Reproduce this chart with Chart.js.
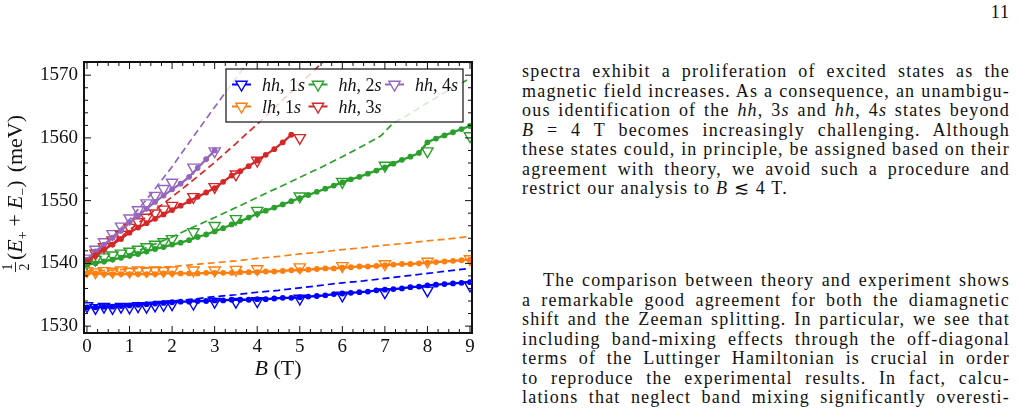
<!DOCTYPE html>
<html>
<head>
<meta charset="utf-8">
<script src="https://cdn.jsdelivr.net/npm/chart.js@4.4.1/dist/chart.umd.min.js"></script>
<style>
  html, body { margin: 0; padding: 0; background: #fff; }
  body { width: 1019px; height: 419px; position: relative; overflow: hidden;
         font-family: "Liberation Serif", "DejaVu Serif", serif; color: #111; }
  #plot { position: absolute; left: 0; top: 0; }
  .txt { position: absolute; left: 522px; width: 488px; font-family: "Liberation Serif", "DejaVu Serif", serif;
         font-size: 18px; letter-spacing: 1.2px; line-height: 19.5px; }
  .ln { text-align: justify; text-align-last: justify; height: 19.5px; }
  .ll { text-align: left; height: 19.5px; }
  #pagenum { position: absolute; right: 9px; top: 2px; font-size: 18px; letter-spacing: 1px;
             font-family: "Liberation Serif", "DejaVu Serif", serif; }
</style>
</head>
<body>
<canvas id="plot" width="490" height="419"></canvas>

<div id="pagenum">11</div>
<div class="txt" style="top:62px">
  <div class="ln">spectra exhibit a proliferation of excited states as the</div>
  <div class="ln">magnetic field increases. As a consequence, an unambigu-</div>
  <div class="ln">ous identification of the <i>hh</i>, 3<i>s</i> and <i>hh</i>, 4<i>s</i> states beyond</div>
  <div class="ln"><i>B</i> = 4 T becomes increasingly challenging. Although</div>
  <div class="ln">these states could, in principle, be assigned based on their</div>
  <div class="ln">agreement with theory, we avoid such a procedure and</div>
  <div class="ll">restrict our analysis to <i>B</i> &#8818; 4 T.</div>
</div>
<div class="txt" style="top:271px">
  <div class="ln" style="padding-left:21px">The comparison between theory and experiment shows</div>
  <div class="ln">a remarkable good agreement for both the diamagnetic</div>
  <div class="ln">shift and the Zeeman splitting. In particular, we see that</div>
  <div class="ln">including band-mixing effects through the off-diagonal</div>
  <div class="ln">terms of the Luttinger Hamiltonian is crucial in order</div>
  <div class="ln">to reproduce the experimental results. In fact, calcu-</div>
  <div class="ln">lations that neglect band mixing significantly overesti-</div>
</div>

<script>
// magnetic field values (T)
const bSolid = [0, 0.2, 0.4, 0.6, 0.8, 1, 1.2, 1.4, 1.6, 1.8, 2, 2.2, 2.4, 2.6, 2.8, 3, 3.2, 3.4, 3.6, 3.8,
                4, 4.2, 4.4, 4.6, 4.8, 5, 5.2, 5.4, 5.6, 5.8, 6, 6.2, 6.4, 6.6, 6.8, 7, 7.2, 7.4, 7.6, 7.8,
                8, 8.2, 8.4, 8.6, 8.8, 9];
const bTri = [0, 0.2, 0.4, 0.6, 0.8, 1, 1.2, 1.4, 1.6, 1.8, 2, 2.5, 3, 3.5, 4, 5, 6, 7, 8, 9];
const bDash = [0, 0.5, 1, 1.5, 2, 2.5, 3, 3.5, 4, 4.5, 5, 5.5, 6, 6.5, 7, 7.5, 8, 8.5, 9];
const bDashGreen = [0, 0.5, 1, 1.5, 2, 2.5, 3, 3.5, 4, 4.5, 5, 5.5, 6, 6.5, 6.9, 7.2, 7.5, 8, 8.5, 9];

// solid lines with dots (meV)
const hh1sSolid = [1533.0, 1533.0, 1533.1, 1533.1, 1533.2, 1533.3, 1533.4, 1533.5, 1533.6, 1533.7, 1533.8, 1533.9,
  1533.9, 1534.0, 1534.0, 1534.1, 1534.1, 1534.2, 1534.2, 1534.2, 1534.3, 1534.3, 1534.4, 1534.5, 1534.5, 1534.6,
  1534.7, 1534.8, 1534.9, 1535.1, 1535.2, 1535.3, 1535.4, 1535.5, 1535.7, 1535.8, 1535.9, 1536.0, 1536.2, 1536.3,
  1536.5, 1536.6, 1536.7, 1536.8, 1536.9, 1537.0];
const lh1sSolid = [1538.4, 1538.4, 1538.3, 1538.3, 1538.3, 1538.3, 1538.3, 1538.3, 1538.3, 1538.4, 1538.4, 1538.4,
  1538.4, 1538.4, 1538.5, 1538.5, 1538.5, 1538.5, 1538.6, 1538.6, 1538.6, 1538.7, 1538.7, 1538.8, 1538.9, 1538.9,
  1539.0, 1539.1, 1539.2, 1539.2, 1539.3, 1539.4, 1539.5, 1539.5, 1539.6, 1539.7, 1539.8, 1539.9, 1539.9, 1540.0,
  1540.1, 1540.2, 1540.3, 1540.4, 1540.5, 1540.6];
const hh2sSolid = [1539.8, 1540.0, 1540.3, 1540.6, 1540.9, 1541.2, 1541.5, 1541.9, 1542.3, 1542.6, 1543.0, 1543.3,
  1543.7, 1544.2, 1544.6, 1545.1, 1545.6, 1546.2, 1546.7, 1547.3, 1547.9, 1548.4, 1548.9, 1549.4, 1549.9, 1550.4,
  1550.9, 1551.4, 1551.9, 1552.4, 1552.9, 1553.4, 1553.8, 1554.3, 1554.8, 1555.3, 1555.9, 1556.5, 1557.0, 1557.6,
  1559.3, 1559.9, 1560.4, 1560.9, 1561.4, 1561.9];
const hh3sSolid = [1540.3, 1541.3, 1542.2, 1543.0, 1543.9, 1544.9, 1545.7, 1546.4, 1547.1, 1547.8, 1548.5, 1549.2,
  1549.9, 1550.6, 1551.3, 1552.0, 1553.0, 1554.0, 1554.7, 1555.5, 1556.4, 1557.3, 1558.2, 1559.3, 1560.5];
const hh4sSolid = [1540.6, 1541.9, 1543.0, 1544.1, 1545.2, 1546.5, 1547.6, 1548.7, 1549.8, 1550.8, 1551.8, 1552.7,
  1553.8, 1555.2, 1556.6, 1558.0];

// open triangles (meV)
const hh1sTri = [1533.2, 1532.9, 1533.1, 1532.9, 1533.1, 1533.0, 1533.2, 1533.1, 1533.3, 1533.4, 1533.5, 1533.6,
  1533.9, 1533.9, 1534.0, 1534.4, 1534.9, 1535.4, 1535.7, 1536.5];
const lh1sTri = [1538.8, 1538.6, 1538.8, 1538.7, 1538.9, 1538.7, 1538.9, 1538.8, 1538.9, 1538.8, 1538.9, 1538.9,
  1538.9, 1539.0, 1539.1, 1539.4, 1539.6, 1539.9, 1540.3, 1540.7];
const hh2sTri = [1540.0, 1540.6, 1541.0, 1541.3, 1541.6, 1541.9, 1542.2, 1542.6, 1543.0, 1543.4, 1543.9, 1545.0,
  1546.0, 1547.1, 1548.4, 1550.7, 1553.0, 1555.6, 1557.9, 1560.3];
const hh3sTri = [1540.4, 1541.6, 1542.6, 1543.7, 1544.6, 1545.7, 1546.6, 1547.3, 1548.0, 1548.6, 1549.2, 1550.6,
  1552.2, 1554.2, 1556.4, 1560.0];
const hh4sTri = [1540.8, 1542.2, 1543.4, 1544.7, 1545.9, 1547.2, 1548.5, 1549.6, 1550.8, 1551.9, 1552.9, 1555.3,
  1557.9];

// dashed lines (meV)
const hh1sDash = [1533.0, 1533.1, 1533.3, 1533.6, 1534.0, 1534.3, 1534.7, 1535.0, 1535.4, 1535.7, 1536.1, 1536.5,
  1536.9, 1537.2, 1537.6, 1538.0, 1538.4, 1538.8, 1539.2];
const lh1sDash = [1538.8, 1538.9, 1539.1, 1539.3, 1539.5, 1539.8, 1540.1, 1540.4, 1540.8, 1541.1, 1541.5, 1541.8,
  1542.2, 1542.5, 1542.9, 1543.2, 1543.6, 1543.9, 1544.3];
const hh2sDash = [1539.8, 1540.5, 1541.5, 1542.8, 1544.2, 1545.8, 1547.3, 1548.9, 1550.5, 1552.1, 1553.7, 1555.3,
  1557.0, 1558.8, 1560.3, 1562.4, 1563.5, 1565.6, 1567.6, 1569.5];
const hh3sDash = [1540.2, 1542.6, 1545.3, 1548.0, 1550.6, 1553.3, 1556.1, 1559.1, 1562.2, 1565.4, 1568.6, 1571.8,
  1575.0];
const hh4sDash = [1540.4, 1543.5, 1547.0, 1551.0, 1555.4, 1560.2, 1564.9, 1569.5, 1574.1];

const stateNames = ['hh,1s', 'lh,1s', 'hh,2s', 'hh,3s', 'hh,4s'];
const xTicks = [0, 1, 2, 3, 4, 5, 6, 7, 8, 9];
const yTicks = [1530, 1540, 1550, 1560, 1570];

const colors = ['#0000ff', '#ff7f0e', '#2ca02c', '#d62728', '#9467bd'];
const FONT = '"Liberation Serif", "DejaVu Serif", serif';
const INK = '#111';

function pts(xs, ys) {
  return ys.map((y, i) => ({ x: xs[i], y: y }));
}

const series = [
  { solid: hh1sSolid, tri: hh1sTri, dash: hh1sDash, dashB: bDash },
  { solid: lh1sSolid, tri: lh1sTri, dash: lh1sDash, dashB: bDash },
  { solid: hh2sSolid, tri: hh2sTri, dash: hh2sDash, dashB: bDashGreen },
  { solid: hh3sSolid, tri: hh3sTri, dash: hh3sDash, dashB: bDash },
  { solid: hh4sSolid, tri: hh4sTri, dash: hh4sDash, dashB: bDash }
];

const datasets = [];
series.forEach((s, k) => {
  const c = colors[k];
  datasets.push({
    data: pts(s.dashB, s.dash), borderColor: c, borderWidth: 1.7, borderDash: [7, 4],
    pointRadius: 0, order: 3, clip: 0
  });
  datasets.push({
    data: pts(bTri, s.tri), showLine: false, pointStyle: 'triangle', pointRotation: 180,
    pointRadius: 6.5, pointBorderWidth: 1.4, pointBorderColor: c,
    pointBackgroundColor: 'rgba(255,255,255,0)', order: 2, clip: 0
  });
  datasets.push({
    data: pts(bSolid, s.solid), borderColor: c, borderWidth: 2.3, pointRadius: 2.9,
    pointBackgroundColor: c, pointBorderWidth: 0, order: 1, clip: 0
  });
});

// draws a list of text pieces one after another, returns total width
function drawRich(ctx, pieces, x, y, measureOnly) {
  let w = 0;
  pieces.forEach(p => {
    ctx.font = (p.italic ? 'italic ' : '') + p.size + 'px ' + FONT;
    if (!measureOnly) ctx.fillText(p.t, x + w, y + (p.dy || 0));
    w += ctx.measureText(p.t).width + (p.gap || 0);
  });
  return w;
}

function nameToPieces(name, size) {
  // 'hh,1s' -> italic letters, upright comma and digit
  const [a, b] = name.split(',');
  return [
    { t: a, italic: true, size: size },
    { t: ', ', size: size },
    { t: b.slice(0, 1), size: size },
    { t: b.slice(1), italic: true, size: size }
  ];
}

const decor = {
  id: 'decor',
  afterDatasetsDraw(chart) {
    const ctx = chart.ctx;
    const a = chart.chartArea;
    const xs = chart.scales.x, ys = chart.scales.y;

    // legend box
    const lx = a.right - 246, ly = a.top + 7, lw = 237, lh = 53;
    ctx.save();
    ctx.fillStyle = 'rgba(255,255,255,0.8)';
    ctx.fillRect(lx, ly, lw, lh);
    ctx.strokeStyle = '#222';
    ctx.lineWidth = 1.3;
    ctx.strokeRect(lx, ly, lw, lh);
    const order = [0, 2, 4, 1, 3]; // row 1: hh1s, hh2s, hh4s ; row 2: lh1s, hh3s
    order.forEach((k, j) => {
      const col = j < 3 ? j : j - 3;
      const row = j < 3 ? 0 : 1;
      const hx = lx + 6 + col * 76.5;
      const hy = ly + 15.5 + row * 22;
      ctx.strokeStyle = colors[k];
      ctx.lineWidth = 2;
      ctx.beginPath();
      ctx.moveTo(hx, hy);
      ctx.lineTo(hx + 19, hy);
      ctx.stroke();
      ctx.fillStyle = '#fff';
      ctx.lineWidth = 1.4;
      Chart.helpers.drawPoint(ctx, {
        pointStyle: 'triangle', rotation: 180, radius: 6.5, borderWidth: 1.4
      }, hx + 9.5, hy);
      ctx.fillStyle = INK;
      ctx.textBaseline = 'alphabetic';
      drawRich(ctx, nameToPieces(stateNames[k], 18), hx + 30, hy + 6);
    });
    ctx.restore();

    // frame and inward ticks on all four sides
    ctx.save();
    ctx.strokeStyle = INK;
    ctx.lineWidth = 1;
    const tick = (x1, y1, x2, y2) => { ctx.beginPath(); ctx.moveTo(x1, y1); ctx.lineTo(x2, y2); ctx.stroke(); };
    for (let v = Math.ceil(xs.min * 4) / 4; v <= xs.max + 1e-9; v += 0.25) {
      const px = xs.getPixelForValue(v);
      const len = Math.abs(v - Math.round(v)) < 1e-6 ? 7 : 4;
      tick(px, a.bottom, px, a.bottom - len);
      tick(px, a.top, px, a.top + len);
    }
    for (let v = Math.ceil(ys.min / 2) * 2; v <= ys.max + 1e-9; v += 2) {
      const py = ys.getPixelForValue(v);
      const len = v % 10 === 0 ? 7 : 4;
      tick(a.left, py, a.left + len, py);
      tick(a.right, py, a.right - len, py);
    }
    ctx.lineWidth = 2;
    ctx.strokeRect(a.left, a.top, a.right - a.left, a.bottom - a.top);
    ctx.restore();
  },
  afterDraw(chart) {
    const ctx = chart.ctx;
    const a = chart.chartArea;
    ctx.save();
    ctx.fillStyle = INK;
    ctx.textBaseline = 'alphabetic';

    // x title: B (T)
    const xt = [{ t: 'B', italic: true, size: 22 }, { t: ' (T)', size: 22 }];
    const xw = drawRich(ctx, xt, 0, 0, true);
    drawRich(ctx, xt, (a.left + a.right) / 2 - xw / 2, 375);

    // y title: 1/2 (E+ + E-) (meV)
    ctx.translate(15, (a.top + a.bottom) / 2 - 4);
    ctx.rotate(-Math.PI / 2);
    const yt = [
      { t: '(', size: 22 },
      { t: 'E', italic: true, size: 22 },
      { t: '+', size: 14, dy: 5, gap: 5 },
      { t: '+', size: 22, gap: 5 },
      { t: 'E', italic: true, size: 22 },
      { t: '\u2212', size: 14, dy: 5 },
      { t: ')', size: 22, gap: 8 },
      { t: '(meV)', size: 22 }
    ];
    const fracW = 10, fracGap = 2;
    const yw = fracW + fracGap + drawRich(ctx, yt, 0, 0, true);
    const x0 = -yw / 2;
    ctx.font = '14px ' + FONT;
    ctx.textAlign = 'center';
    ctx.fillText('1', x0 + fracW / 2, -3);
    ctx.fillText('2', x0 + fracW / 2, 14);
    ctx.strokeStyle = INK;
    ctx.lineWidth = 0.9;
    ctx.beginPath();
    ctx.moveTo(x0, 0.5);
    ctx.lineTo(x0 + fracW, 0.5);
    ctx.stroke();
    ctx.textAlign = 'left';
    drawRich(ctx, yt, x0 + fracW + fracGap, 7);
    ctx.restore();
  }
};

new Chart(document.getElementById('plot'), {
  type: 'line',
  data: { datasets: datasets },
  options: {
    responsive: false,
    animation: false,
    devicePixelRatio: 1,
    layout: { padding: { left: 0, top: 62, right: 18, bottom: 0 } },
    elements: { line: { tension: 0 } },
    plugins: { legend: { display: false }, tooltip: { enabled: false } },
    scales: {
      x: {
        type: 'linear', min: -0.07, max: 9.047,
        afterBuildTicks: s => { s.ticks = xTicks.map(v => ({ value: v })); },
        afterFit: s => { s.height = 86; },
        grid: { display: false, drawTicks: false },
        border: { display: false },
        ticks: { font: { family: FONT, size: 19 }, color: INK, padding: 3, maxRotation: 0, autoSkip: false,
                 callback: v => String(v) }
      },
      y: {
        type: 'linear', min: 1528.9, max: 1572.1,
        afterBuildTicks: s => { s.ticks = yTicks.map(v => ({ value: v })); },
        afterFit: s => { s.width = 84; },
        grid: { display: false, drawTicks: false },
        border: { display: false },
        ticks: { font: { family: FONT, size: 19 }, color: INK, padding: 6, autoSkip: false,
                 callback: v => String(v) }
      }
    }
  },
  plugins: [decor]
});
</script>
</body>
</html>
